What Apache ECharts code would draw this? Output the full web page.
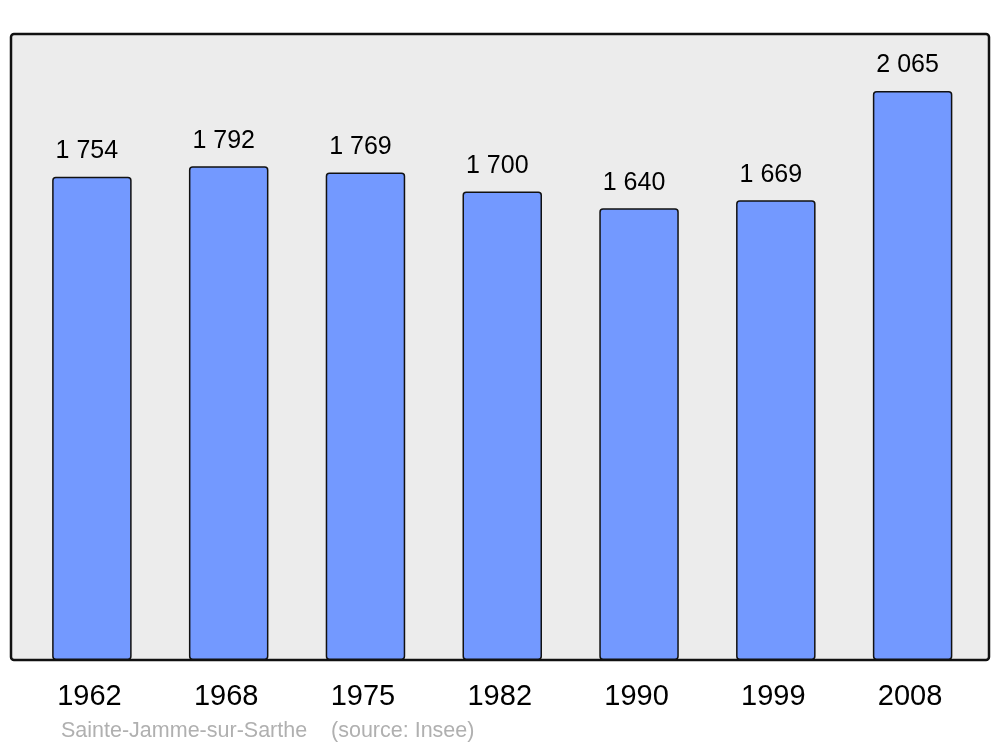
<!DOCTYPE html>
<html>
<head>
<meta charset="utf-8">
<script src="https://cdn.jsdelivr.net/npm/echarts@6/dist/echarts.min.js"></script>
<style>
  html, body { margin: 0; padding: 0; background: #fff; }
  #chart { width: 1000px; height: 747px; }
</style>
</head>
<body>
<div id="chart"></div>
<script>
// population par recensement
const years = ["1962", "1968", "1975", "1982", "1990", "1999", "2008"];
const population = [1754, 1792, 1769, 1700, 1640, 1669, 2065];
const sourceText = "Sainte-Jamme-sur-Sarthe    (source: Insee)";

const chart = echarts.init(document.getElementById("chart"));

chart.setOption({
  animation: false,
  textStyle: { fontFamily: "Liberation Sans, Arial, sans-serif" },
  grid: { left: 23.5, right: 19, top: 34, bottom: 87 },
  graphic: [
    {
      type: "rect",
      z: 0,
      shape: { x: 11, y: 34, width: 978, height: 626, r: 3 },
      style: { fill: "#ececec", stroke: "#111", lineWidth: 2.5 }
    },
    {
      type: "text",
      z: 5,
      left: 61,
      top: 720,
      style: {
        text: sourceText,
        fill: "#b0b0b0",
        font: "21.5px Liberation Sans, Arial, sans-serif"
      }
    }
  ],
  xAxis: {
    type: "category",
    data: years,
    axisLine: { show: false },
    axisTick: { show: false },
    axisLabel: {
      color: "#000",
      fontSize: 29,
      margin: 22,
      padding: [0, 5, 0, 0]
    }
  },
  yAxis: {
    type: "value",
    min: 0,
    max: 2272,
    show: false,
    splitLine: { show: false }
  },
  series: [
    {
      type: "bar",
      data: population,
      barWidth: 79.5,
      z: 3,
      itemStyle: {
        color: "#7399ff",
        borderColor: "#111",
        borderWidth: 1.5,
        borderRadius: 3
      },
      label: {
        show: true,
        position: "top",
        distance: 13,
        offset: [-5, 0],
        color: "#000",
        fontSize: 25,
        formatter: p => String(p.value).replace(/\B(?=(\d{3})+(?!\d))/g, " ")
      }
    }
  ]
});
</script>
</body>
</html>
